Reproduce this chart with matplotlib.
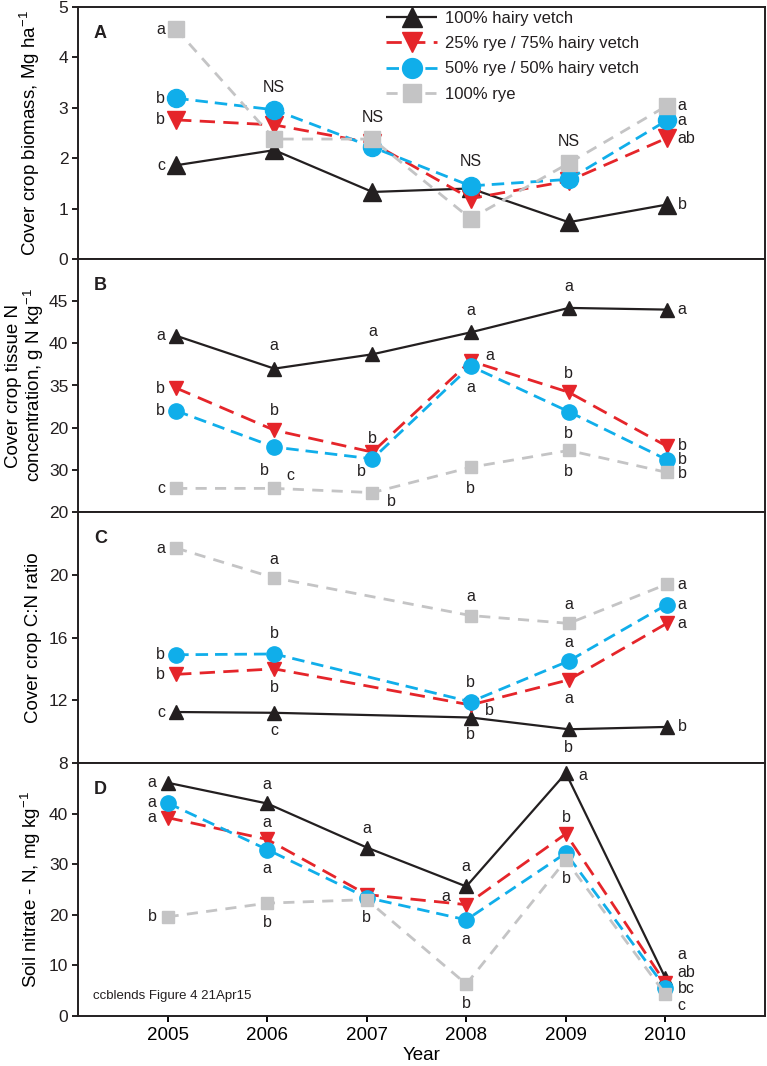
"""
Cover crop blends, four stacked panels (biomass, tissue N, C:N, soil nitrate).
"""
import matplotlib as mpl
mpl.use("Agg")
import matplotlib.pyplot as plt

mpl.rcParams.update({
    "font.family": ["Liberation Sans", "DejaVu Sans"],
    "mathtext.fontset": "custom",
    "mathtext.rm": "Liberation Sans",
    "mathtext.it": "Liberation Sans:italic",
    "axes.linewidth": 1.4,
    "xtick.major.width": 1.4,
    "ytick.major.width": 1.4,
    "xtick.major.size": 4,
    "ytick.major.size": 4,
    "xtick.direction": "out",
    "ytick.direction": "out",
    "text.color": "#231F20",
})

# ---- data -------------------------------------------------------------
YEARS = [2005, 2006, 2007, 2008, 2009, 2010]
YEARS_CN = [2005, 2006, 2008, 2009, 2010]     # no 2007 in the C:N panel

LABELS = ["100% hairy vetch", "25% rye / 75% hairy vetch",
          "50% rye / 50% hairy vetch", "100% rye"]

# A: cover crop biomass, Mg/ha
BIO_HV = [1.86, 2.16, 1.33, 1.40, 0.73, 1.08]
BIO_R25 = [2.76, 2.66, 2.30, 1.20, 1.55, 2.40]
BIO_R50 = [3.19, 2.96, 2.22, 1.45, 1.58, 2.75]
BIO_RYE = [4.56, 2.38, 2.38, 0.80, 1.90, 3.04]

# B: tissue N concentration, g N/kg
TN_HV = [40.9, 37.0, 38.7, 41.3, 44.2, 44.0]
TN_R25 = [34.7, 29.7, 27.1, 37.9, 34.2, 27.8]
TN_R50 = [32.0, 27.7, 26.3, 37.3, 31.9, 26.2]
TN_RYE = [22.8, 22.8, 22.3, 25.3, 27.3, 24.7]

# C: C:N ratio
CN_HV = [11.25, 11.2, 10.9, 10.15, 10.3]
CN_R25 = [13.65, 14.0, 11.7, 13.3, 16.9]
CN_R50 = [14.9, 14.95, 11.9, 14.5, 18.1]
CN_RYE = [21.7, 19.8, 17.4, 16.9, 19.4]

# D: soil nitrate-N, mg/kg
NO3_HV = [46.1, 42.0, 33.3, 25.6, 48.0, 7.5]
NO3_R25 = [39.2, 34.9, 24.0, 22.0, 36.0, 6.5]
NO3_R50 = [42.1, 32.9, 23.4, 19.0, 32.2, 5.6]
NO3_RYE = [19.6, 22.3, 23.0, 6.3, 30.8, 4.3]

# panel B tick labels as printed in the figure
TN_TICKS = [20, 25, 30, 35, 40, 45]
TN_TICKLABELS = ["20", "30", "20", "35", "40", "45"]

# mean-separation letters: (series, year, text, offset)
# offset: "L"/"R"/"T" or (dx, dy) in pixels
LET_A = [
    (3, 2005, "a", "L"), (2, 2005, "b", "L"), (1, 2005, "b", "L"), (0, 2005, "c", "L"),
    (2, 2006, "NS", "T"), (3, 2007, "NS", "T"), (2, 2008, "NS", (0, 24)),
    (3, 2009, "NS", "T"),
    (3, 2010, "a", "R"), (2, 2010, "a", "R"), (1, 2010, "ab", "R"), (0, 2010, "b", "R"),
]
LET_B = [
    (0, 2005, "a", "L"), (1, 2005, "b", "L"), (2, 2005, "b", "L"), (3, 2005, "c", "L"),
    (0, 2006, "a", (0, 23)), (1, 2006, "b", (0, 20)), (2, 2006, "b", (-10, -23)),
    (3, 2006, "c", (12, 13)),
    (0, 2007, "a", (0, 23)), (1, 2007, "b", (0, 14)), (2, 2007, "b", (-11, -13)),
    (3, 2007, "b", (14, -9)),
    (0, 2008, "a", (0, 22)), (1, 2008, "a", (15, 6)), (2, 2008, "a", (0, -21)),
    (3, 2008, "b", (0, -21)),
    (0, 2009, "a", (0, 21)), (1, 2009, "b", (0, 19)), (2, 2009, "b", (0, -22)),
    (3, 2009, "b", (0, -21)),
    (0, 2010, "a", "R"), (1, 2010, "b", (11, 1)), (2, 2010, "b", "R"),
    (3, 2010, "b", (11, -1)),
]
LET_C = [
    (3, 2005, "a", "L"), (2, 2005, "b", "L"), (1, 2005, "b", "L"), (0, 2005, "c", "L"),
    (3, 2006, "a", (0, 18)), (2, 2006, "b", (0, 20)), (1, 2006, "b", (0, -19)),
    (0, 2006, "c", (0, -18)),
    (3, 2008, "a", (0, 19)), (2, 2008, "b", (0, 19)), (1, 2008, "b", (14, -6)),
    (0, 2008, "b", (0, -17)),
    (3, 2009, "a", (0, 19)), (2, 2009, "a", (0, 19)), (1, 2009, "a", (0, -19)),
    (0, 2009, "b", (0, -18)),
    (3, 2010, "a", "R"), (2, 2010, "a", "R"), (1, 2010, "a", "R"), (0, 2010, "b", "R"),
]
LET_D = [
    (0, 2005, "a", "L"), (2, 2005, "a", "L"), (1, 2005, "a", "L"), (3, 2005, "b", "L"),
    (0, 2006, "a", (0, 19)), (1, 2006, "a", (0, 17)), (2, 2006, "a", (0, -19)),
    (3, 2006, "b", (0, -19)),
    (0, 2007, "a", (0, 19)), (3, 2007, "b", (0, -18)),
    (0, 2008, "a", (0, 20)), (1, 2008, "a", (-20, 8)), (2, 2008, "a", (0, -20)),
    (3, 2008, "b", (0, -19)),
    (0, 2009, "a", (13, -2)), (1, 2009, "b", (0, 16)), (3, 2009, "b", (0, -18)),
    (0, 2010, "a", (12, 24)), (1, 2010, "ab", (12, 11)), (2, 2010, "bc", (12, -1)),
    (3, 2010, "c", (12, -11)),
]

# ---- styles -------------------------------------------------------------
BLACK = "#231F20"
STYLES = [
    dict(color=BLACK, marker="^", lw=1.6, ls="-"),
    dict(color="#E5252A", marker="v", lw=2.0, dashes=(5.5, 3.0)),
    dict(color="#10AEEA", marker="o", lw=2.0, dashes=(4.5, 2.5)),
    dict(color="#C4C4C5", marker="s", lw=2.0, dashes=(4.0, 3.0)),
]
MS_BIG = [12.5, 12.5, 13.0, 11.5]
MS_SMALL = [10.5, 10.5, 11.0, 8.5]

W, H = 767, 1066
LEFT, RIGHT = 78, 765
PANELS_PX = [(7, 259), (259, 512), (512, 763), (763, 1016)]


def add_panel(fig, top, bot):
    return fig.add_axes([LEFT / W, 1 - bot / H, (RIGHT - LEFT) / W,
                         (bot - top) / H])


def draw_series(ax, years, series, sizes):
    for vals, st, ms, lab in zip(series, STYLES, sizes, LABELS):
        kw = dict(st)
        dashes = kw.pop("dashes", None)
        line, = ax.plot(years, vals, color=kw["color"], marker=kw["marker"],
                        lw=kw["lw"], ms=ms, mec=kw["color"], mfc=kw["color"],
                        label=lab, solid_capstyle="butt",
                        dash_capstyle="butt")
        if dashes is not None:
            line.set_dashes(dashes)


def letters(ax, years, series, table):
    for si, yr, txt, off in table:
        y = series[si][years.index(yr)]
        ha = "center"
        if off == "L":
            off, ha = (-11, 0), "right"
        elif off == "R":
            off, ha = (11, 0), "left"
        elif off == "T":
            off = (0, 22)
        elif off[0] >= 11:
            ha = "left"
        ax.annotate(txt, (yr, y), xytext=off, textcoords="offset pixels",
                    ha=ha, va="center", fontsize=11.5, color=BLACK)


def panel_letter(ax, s):
    ax.text(0.023, 0.895, s, transform=ax.transAxes, fontsize=13,
            fontweight="bold", ha="left", va="center", color=BLACK)


fig = plt.figure(figsize=(W / 100, H / 100), dpi=100)
axA, axB, axC, axD = [add_panel(fig, t, b) for t, b in PANELS_PX]

# A
sA = [BIO_HV, BIO_R25, BIO_R50, BIO_RYE]
draw_series(axA, YEARS, sA, MS_BIG)
letters(axA, YEARS, sA, LET_A)
axA.set_ylim(0, 5)
axA.set_yticks([0, 1, 2, 3, 4, 5])
axA.set_ylabel("Cover crop biomass, Mg ha$^{-1}$", fontsize=13.5)
axA.yaxis.set_label_coords(-0.053, 0.5)
panel_letter(axA, "A")
axA.legend(loc="upper left", bbox_to_anchor=(0.448, 0.985), frameon=False,
           borderpad=0, borderaxespad=0, handlelength=3.1,
           handletextpad=0.45, labelspacing=0.62, fontsize=12,
           markerscale=1.1)

# B
sB = [TN_HV, TN_R25, TN_R50, TN_RYE]
draw_series(axB, YEARS, sB, MS_SMALL)
letters(axB, YEARS, sB, LET_B)
axB.set_ylim(20, 50)
axB.set_yticks(TN_TICKS)
axB.set_yticklabels(TN_TICKLABELS)
axB.set_ylabel("Cover crop tissue N\nconcentration, g N kg$^{-1}$",
               fontsize=13.5, linespacing=1.0)
axB.yaxis.set_label_coords(-0.046, 0.5)
panel_letter(axB, "B")

# C
sC = [CN_HV, CN_R25, CN_R50, CN_RYE]
draw_series(axC, YEARS_CN, sC, MS_SMALL)
letters(axC, YEARS_CN, sC, LET_C)
axC.set_ylim(8, 24)
axC.set_yticks([8, 12, 16, 20])
axC.set_ylabel("Cover crop C:N ratio", fontsize=13.5)
axC.yaxis.set_label_coords(-0.053, 0.5)
panel_letter(axC, "C")

# D
sD = [NO3_HV, NO3_R25, NO3_R50, NO3_RYE]
draw_series(axD, YEARS, sD, MS_SMALL)
letters(axD, YEARS, sD, LET_D)
axD.set_ylim(0, 50)
axD.set_yticks([0, 10, 20, 30, 40])
axD.set_ylabel("Soil nitrate - N, mg kg$^{-1}$", fontsize=13.5)
axD.yaxis.set_label_coords(-0.051, 0.5)
axD.set_xlabel("Year", fontsize=13.5, labelpad=2)
panel_letter(axD, "D")
axD.text(0.022, 0.079, "ccblends Figure 4 21Apr15", transform=axD.transAxes,
         fontsize=9.5, ha="left", va="center", color=BLACK)

for ax in (axA, axB, axC):
    ax.set_xlim(2004.0, 2011.0)
    ax.set_xticks([])
axD.set_xlim(2004.1, 2011.0)
axD.set_xticks(YEARS)
axD.tick_params(axis="x", labelsize=13.5, pad=4)

for ax in (axA, axB, axC, axD):
    ax.tick_params(axis="y", labelsize=12.5, pad=3, colors=BLACK)
    for sp in ax.spines.values():
        sp.set_color(BLACK)

fig.savefig("out.png", dpi=100)
